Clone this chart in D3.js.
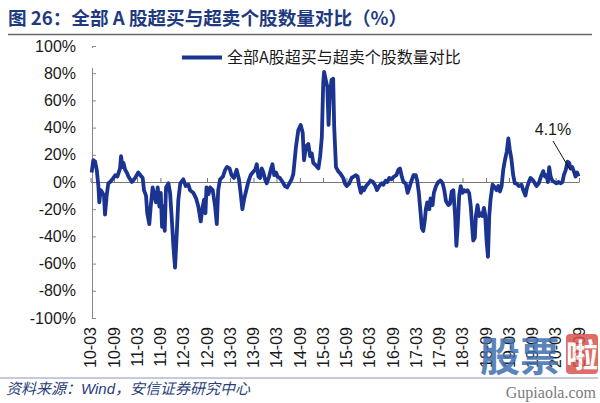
<!DOCTYPE html>
<html><head><meta charset="utf-8">
<script src="https://cdn.jsdelivr.net/npm/d3@7"></script>
<style>body{margin:0;background:#fff}svg{display:block}</style></head>
<body><svg id="c" width="600" height="403"></svg>
<script>
const titleText = "图 26：全部 A 股超买与超卖个股数量对比（%）";
const sourceText = ["资料来源：", "Wind", "，安信证券研究中心"];
const seriesName = "全部A股超买与超卖个股数量对比";
const latestLabel = "4.1%";
const yTicks = [-100,-80,-60,-40,-20,0,20,40,60,80,100];
const xTickLabels = ["10-03","10-09","11-03","11-09","12-03","12-09","13-03","13-09","14-03","14-09","15-03","15-09","16-03","16-09","17-03","17-09","18-03","18-09","19-03","19-09","20-03","20-09"];
const dates = [
"2010-03-10","2010-03-23","2010-04-06","2010-04-19","2010-05-02","2010-05-09","2010-05-20","2010-06-03","2010-06-15","2010-06-23",
"2010-07-06","2010-07-19","2010-08-02","2010-08-28","2010-09-11","2010-09-28","2010-10-19","2010-10-27","2010-11-07","2010-11-15",
"2010-11-28","2010-12-11","2010-12-24","2011-01-20","2011-02-15","2011-03-11","2011-03-28","2011-04-15","2011-04-25","2011-05-11",
"2011-05-21","2011-06-06","2011-06-17","2011-07-02","2011-07-15","2011-07-28","2011-08-11","2011-08-24","2011-09-04","2011-09-14",
"2011-09-24","2011-10-05","2011-10-15","2011-11-03","2011-11-16","2011-11-28","2011-12-12","2011-12-25","2012-01-08","2012-01-20",
"2012-02-04","2012-02-28","2012-03-18","2012-04-08","2012-04-21","2012-05-17","2012-06-07","2012-06-25","2012-07-14","2012-07-26",
"2012-08-09","2012-08-20","2012-08-28","2012-09-13","2012-09-26","2012-10-16","2012-11-04","2012-11-17","2012-11-28","2012-12-13",
"2013-01-04","2013-01-22","2013-02-05","2013-02-25","2013-03-13","2013-04-01","2013-04-22","2013-05-10","2013-05-23","2013-06-06",
"2013-06-19","2013-07-04","2013-07-22","2013-08-10","2013-08-26","2013-09-14","2013-09-27","2013-10-10","2013-10-23","2013-11-05",
"2013-11-18","2013-12-01","2013-12-14","2014-01-02","2014-01-18","2014-01-28","2014-02-11","2014-02-26","2014-03-09","2014-03-27",
"2014-04-18","2014-05-06","2014-05-24","2014-06-10","2014-06-28","2014-07-11","2014-08-01","2014-08-19","2014-09-07","2014-09-23",
"2014-10-03","2014-10-18","2014-11-06","2014-11-20","2014-12-03","2014-12-15","2015-01-06","2015-01-24","2015-02-07","2015-02-20",
"2015-03-03","2015-03-10","2015-03-23","2015-04-04","2015-04-14","2015-04-24","2015-05-07","2015-05-20","2015-05-28","2015-06-11",
"2015-06-28","2015-07-17","2015-08-07","2015-08-20","2015-09-03","2015-09-24","2015-10-12","2015-10-28","2015-11-15","2015-11-28",
"2015-12-11","2015-12-24","2016-01-07","2016-01-17","2016-02-03","2016-02-21","2016-03-09","2016-03-28","2016-04-17","2016-04-28",
"2016-05-16","2016-06-04","2016-06-17","2016-07-05","2016-07-18","2016-08-03","2016-08-21","2016-09-09","2016-09-28","2016-10-13",
"2016-10-26","2016-11-09","2016-11-22","2016-12-10","2016-12-25","2017-01-08","2017-01-21","2017-02-09","2017-02-27","2017-03-10",
"2017-03-23","2017-04-06","2017-04-16","2017-04-27","2017-05-09","2017-05-17","2017-05-28","2017-06-13","2017-06-23","2017-07-09",
"2017-07-19","2017-08-05","2017-08-23","2017-09-11","2017-09-26","2017-10-09","2017-10-22","2017-11-10","2017-11-23","2017-12-06",
"2017-12-19","2018-01-02","2018-01-12","2018-01-22","2018-02-03","2018-02-15","2018-03-01","2018-03-14","2018-03-27","2018-04-09",
"2018-04-22","2018-05-05","2018-05-16","2018-05-24","2018-06-06","2018-06-14","2018-06-27","2018-07-10","2018-07-20","2018-08-05",
"2018-08-16","2018-08-26","2018-09-06","2018-09-17","2018-09-27","2018-10-07","2018-10-23","2018-11-11","2018-11-24","2018-12-07",
"2018-12-20","2019-01-02","2019-01-15","2019-01-28","2019-02-11","2019-02-24","2019-03-07","2019-03-20","2019-04-03","2019-04-16",
"2019-04-28","2019-05-17","2019-06-07","2019-06-25","2019-07-08","2019-07-21","2019-08-04","2019-08-17","2019-09-08","2019-10-03",
"2019-10-21","2019-11-07","2019-11-25","2019-12-08","2019-12-21","2020-01-01","2020-01-11","2020-01-22","2020-02-04","2020-02-20",
"2020-03-08","2020-03-26","2020-04-11","2020-04-24","2020-05-05","2020-05-20","2020-06-03","2020-06-16","2020-06-26","2020-07-09",
"2020-07-22","2020-08-05","2020-08-18","2020-08-28"
];
const values = [
7,16,15,9,-3,-15,-6,-8,-10,-24,
-10,-1,0,3,5,4,10,19,11,14,
9,7,4,0,3,7,5,3,-6,-10,
-23,-31,-18,-4,-10,-15,-4,-18,-8,-33,
-18,-36,-4,-1,-8,-25,-47,-63,-37,-13,
-1,2,-3,-2,-6,-8,-12,-18,-29,-20,
-13,-23,-4,-9,-4,-6,-18,-31,-6,2,
4,9,11,10,5,3,9,2,-8,-20,
-13,-7,0,5,7,9,13,4,3,10,
7,2,-1,4,10,13,5,7,4,3,
0,-3,-4,-1,2,6,26,38,42,36,
16,26,28,19,21,14,12,10,19,33,
73,81,75,70,42,64,75,76,41,11,
8,6,3,-1,-3,-1,3,4,5,4,
-3,-8,-4,-6,-3,-1,1,0,-3,-6,
-3,-1,-2,1,0,3,2,4,5,9,
10,4,0,-1,-8,-4,0,5,5,1,
-8,-23,-34,-36,-28,-20,-15,-20,-12,-17,
-8,-3,0,1,-1,-6,-14,-17,-16,-7,
-6,-25,-47,-33,-10,-3,-8,-6,-7,-6,
-8,-18,-33,-43,-41,-25,-17,-25,-23,-25,
-19,-24,-43,-55,-25,-13,-2,-4,-6,-3,
-7,-3,9,16,22,32,24,17,5,-1,
-1,-3,-2,-7,-10,-4,0,3,1,-3,
-1,4,8,4,5,0,11,4,1,0,
-1,0,-1,0,5,9,15,14,10,11,
8,4,7,4.1
];

const svg = d3.select("#c");
const cjk = "'Noto Sans CJK SC', sans-serif";
const latin = "'Liberation Sans', Arial, sans-serif";
const parse = d3.timeParse("%Y-%m-%d");
const data = dates.map((d,i)=>({date:parse(d), v:values[i]}));

const x = d3.scaleTime().domain([new Date(2010,2,1), new Date(2020,8,1)]).range([90.5, 579]);
const y = d3.scaleLinear().domain([-100,100]).range([318, 46]);
const tickDates = xTickLabels.map(s=>new Date(2000+ +s.slice(0,2), +s.slice(3)-1, 1));

// title
svg.append("text").attr("x",8).attr("y",25).attr("font-family",cjk).attr("font-weight","bold")
  .attr("font-size",18.6).attr("fill","#1f3b80").text(titleText);
svg.append("line").attr("x1",8).attr("x2",592).attr("y1",34.5).attr("y2",34.5).attr("stroke","#666").attr("stroke-width",1.5);

// y axis
const yAxis = svg.append("g").attr("transform","translate(92,0)")
  .call(d3.axisLeft(y).tickValues(yTicks).tickSize(-4).tickPadding(16).tickFormat(d=>d+"%"));
yAxis.select(".domain").attr("stroke","#888");
yAxis.selectAll(".tick line").attr("stroke","#888");
yAxis.selectAll("text").attr("font-family",latin).attr("font-size",16).attr("fill","#1a1a1a");

// zero line x axis with upward ticks
const xAxis = svg.append("g").attr("transform",`translate(0,${y(0)})`)
  .call(d3.axisBottom(x).tickValues(tickDates).tickSize(-4).tickSizeOuter(0).tickFormat(""));
xAxis.select(".domain").attr("stroke","#777");
xAxis.selectAll(".tick line").attr("stroke","#777");

// x labels at bottom rotated
svg.append("g").selectAll("text").data(tickDates).join("text")
  .attr("transform",d=>`translate(${x(d)},327) rotate(-90)`)
  .attr("text-anchor","end").attr("dy","0.35em")
  .attr("font-family",latin).attr("font-size",16).attr("fill","#1a1a1a")
  .text((d,i)=>xTickLabels[i]);

// line
const line = d3.line().x(d=>x(d.date)).y(d=>y(d.v));
svg.append("path").datum(data).attr("d",line).attr("fill","none")
  .attr("stroke","#1b3391").attr("stroke-width",3.8).attr("stroke-linejoin","round");

// legend
svg.append("rect").attr("x",84).attr("y",48).attr("width",396).attr("height",20).attr("fill","#fff");
svg.append("line").attr("x1",182).attr("x2",222).attr("y1",57.5).attr("y2",57.5).attr("stroke","#1b3391").attr("stroke-width",4);
svg.append("text").attr("x",227).attr("y",63).attr("font-family",cjk).attr("font-size",16).attr("fill","#1a1a1a").text(seriesName);

// annotation
const last = data[data.length-1];
svg.append("text").attr("x",553).attr("y",135).attr("text-anchor","middle").attr("font-family",latin)
  .attr("font-size",16).attr("fill","#1a1a1a").text(latestLabel);
svg.append("line").attr("x1",553).attr("y1",141).attr("x2",x(last.date)-8).attr("y2",y(10)+2).attr("stroke","#111").attr("stroke-width",1);

// source footer
svg.append("line").attr("x1",0).attr("x2",598).attr("y1",378).attr("y2",378).attr("stroke","#8a94b8").attr("stroke-width",1);
const src = svg.append("text").attr("x",6).attr("y",394).attr("font-size",15).attr("font-style","italic");
src.append("tspan").attr("font-family",cjk).attr("fill","#2a3f7a").text(sourceText[0]);
src.append("tspan").attr("font-family",latin).attr("fill","#1f3b80").text(sourceText[1]);
src.append("tspan").attr("font-family",cjk).attr("fill","#2a3f7a").text(sourceText[2]);

// watermark
const wm = svg.append("g").attr("opacity",0.85);
wm.append("text").attr("x",480).attr("y",371).attr("font-family",cjk).attr("font-weight","bold")
  .attr("font-size",40).attr("fill","#3f6fb0").text("股票");
wm.append("rect").attr("x",566).attr("y",334).attr("width",32).attr("height",40).attr("rx",4).attr("fill","#d9534f");
wm.append("text").attr("x",582).attr("y",367).attr("text-anchor","middle").attr("font-family",cjk).attr("font-weight","bold")
  .attr("font-size",32).attr("fill","#fff").text("啦");
wm.append("text").attr("x",596).attr("y",398).attr("text-anchor","end").attr("font-family","'Liberation Serif', serif")
  .attr("font-size",16).attr("fill","#666").text("Gupiaola.com");
</script></body></html>
